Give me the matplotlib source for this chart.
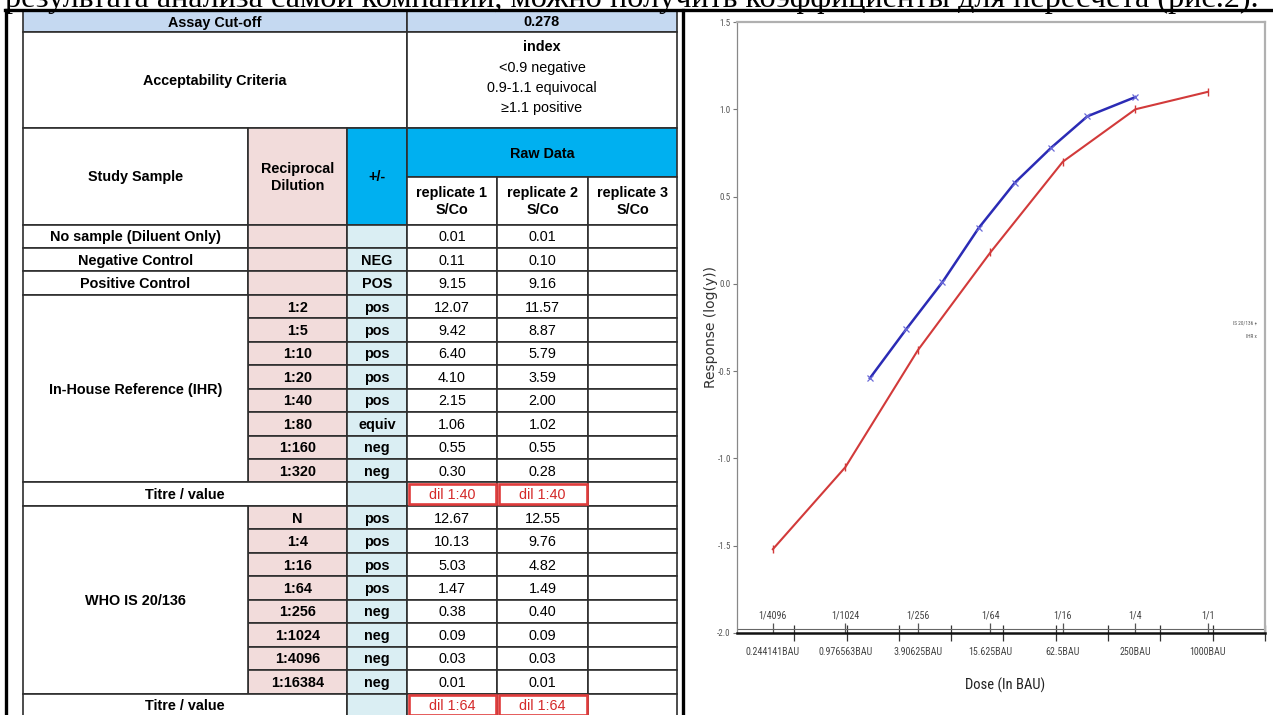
import numpy as np
import matplotlib
matplotlib.use("Agg")  # headless
import matplotlib.pyplot as plt
import matplotlib.ticker as mticker
from matplotlib import font_manager
from matplotlib.patches import Rectangle
from matplotlib.transforms import blended_transform_factory

W, H = 1273, 715

# ---- data ----
caption = ("результата анализа самой компании, можно получить "
           "коэффициенты для пересчета (рис.2).")

cutoff = "0.278"
criteria_head = "index"
criteria = ["<0.9 negative", "0.9-1.1 equivocal", "≥1.1 positive"]

control_names = ["No sample (Diluent Only)", "Negative Control", "Positive Control"]
control_call = ["", "NEG", "POS"]
control_rep1 = ["0.01", "0.11", "9.15"]
control_rep2 = ["0.01", "0.10", "9.16"]

ihr_dil = ["1:2", "1:5", "1:10", "1:20", "1:40", "1:80", "1:160", "1:320"]
ihr_call = ["pos", "pos", "pos", "pos", "pos", "equiv", "neg", "neg"]
ihr_rep1 = ["12.07", "9.42", "6.40", "4.10", "2.15", "1.06", "0.55", "0.30"]
ihr_rep2 = ["11.57", "8.87", "5.79", "3.59", "2.00", "1.02", "0.55", "0.28"]
ihr_titre = ["dil 1:40", "dil 1:40"]

who_dil = ["N", "1:4", "1:16", "1:64", "1:256", "1:1024", "1:4096", "1:16384"]
who_call = ["pos", "pos", "pos", "pos", "neg", "neg", "neg", "neg"]
who_rep1 = ["12.67", "10.13", "5.03", "1.47", "0.38", "0.09", "0.03", "0.01"]
who_rep2 = ["12.55", "9.76", "4.82", "1.49", "0.40", "0.09", "0.03", "0.01"]
who_titre = ["dil 1:64", "dil 1:64"]

# dose-response plot
is_dose = [0.244141, 0.976563, 3.90625, 15.625, 62.5, 250, 1000]
is_resp = [-1.52, -1.05, -0.38, 0.18, 0.70, 1.00, 1.10]
ihr_dose = [1.5625, 3.125, 6.25, 12.5, 25, 50, 100, 250]
ihr_resp = [-0.54, -0.26, 0.01, 0.32, 0.58, 0.78, 0.96, 1.07]
dose_labels = ["0.244141BAU", "0.976563BAU", "3.90625BAU", "15.625BAU",
               "62.5BAU", "250BAU", "1000BAU"]
dil_labels = ["1/4096", "1/1024", "1/256", "1/64", "1/16", "1/4", "1/1"]
y_ticks = [-2.0, -1.5, -1.0, -0.5, 0.0, 0.5, 1.0, 1.5]


def pick(*names):
    have = {f.name for f in font_manager.fontManager.ttflist}
    for n in names:
        if n in have:
            return n
    return None


def narrow_font():
    """A condensed sans for the chart labels, whatever is installed."""
    name = pick("Liberation Sans Narrow", "Arial Narrow", "Roboto Condensed",
                "Open Sans Condensed", "Noto Sans Condensed", "DejaVu Sans Condensed")
    if name:
        return dict(family=name)
    for fam in ("Noto Sans", "Open Sans", "Roboto", "DejaVu Sans"):
        for f in font_manager.fontManager.ttflist:
            if f.name == fam and f.stretch != "normal" and "expand" not in str(f.stretch):
                return dict(family=fam, stretch="condensed")
    return dict(family="DejaVu Sans")


SANS = pick("Liberation Sans", "Arial") or "DejaVu Sans"
SERIF = pick("Liberation Serif", "DejaVu Serif") or "DejaVu Serif"
NARROW = narrow_font()

PINK = "#f2dcdb"
LBLUE = "#daeef3"
HEAD = "#c5d9f1"
CYAN = "#00b0f0"
GRID = "#2e2e2e"
RED = "#e03c3c"

fig = plt.figure(figsize=(W / 100, H / 100), dpi=100)
ax_t = fig.add_axes([0, 0, 1, 1])
ax_t.set_xlim(0, W)
ax_t.set_ylim(H, 0)
ax_t.axis("off")

FS = 10.4


def cell(x0, x1, y0, y1, text="", bg="white", bold=True, color="black"):
    ax_t.add_patch(Rectangle((x0, y0), x1 - x0, y1 - y0, facecolor=bg,
                             edgecolor=GRID, lw=1.2, zorder=1))
    if text:
        ax_t.text((x0 + x1) / 2, (y0 + y1) / 2 + 1, text, ha="center", va="center",
                  family=SANS, fontsize=FS, color=color,
                  fontweight="bold" if bold else "normal", linespacing=1.3, zorder=3)


def titre(x0, x1, y0, y1, text):
    cell(x0, x1, y0, y1)
    ax_t.add_patch(Rectangle((x0 + 1.5, y0 + 1.5), x1 - x0 - 3, y1 - y0 - 3,
                             facecolor="none", edgecolor=RED, lw=1.9, zorder=2))
    ax_t.text((x0 + x1) / 2, (y0 + y1) / 2 + 1, text, ha="center", va="center",
              family=SANS, fontsize=FS, color="#d42a2a", zorder=3)


# column edges and row edges (pixels)
C = [23, 248, 347, 407, 497, 588, 677]
R0, RH = 224.5, 23.45

# header block
cell(C[0], C[3], 11, 32, "Assay Cut-off", HEAD)
cell(C[3], C[6], 11, 32, cutoff, HEAD)
cell(C[0], C[3], 32, 128, "Acceptability Criteria")
cell(C[3], C[6], 32, 128)
ax_t.text((C[3] + C[6]) / 2, 47, criteria_head, ha="center", va="center",
          family=SANS, fontsize=FS, fontweight="bold")
for i, s in enumerate(criteria):
    ax_t.text((C[3] + C[6]) / 2, 68 + 20 * i, s, ha="center", va="center",
              family=SANS, fontsize=FS)
cell(C[0], C[1], 128, R0, "Study Sample")
cell(C[1], C[2], 128, R0, "Reciprocal\nDilution", PINK)
cell(C[2], C[3], 128, R0, "+/-", CYAN)
cell(C[3], C[6], 128, 177, "Raw Data", CYAN)
for j in range(3):
    cell(C[3 + j], C[4 + j], 177, R0, f"replicate {j + 1}\nS/Co")


def y_of(r):
    return R0 + r * RH


row = 0
for name, call, a, b in zip(control_names, control_call, control_rep1, control_rep2):
    y0, y1 = y_of(row), y_of(row + 1)
    cell(C[0], C[1], y0, y1, name)
    cell(C[1], C[2], y0, y1, "", PINK)
    cell(C[2], C[3], y0, y1, call, LBLUE)
    cell(C[3], C[4], y0, y1, a, bold=False)
    cell(C[4], C[5], y0, y1, b, bold=False)
    cell(C[5], C[6], y0, y1)
    row += 1


def block(label, dils, calls, rep1, rep2, titres):
    global row
    top = row
    for d, c, a, b in zip(dils, calls, rep1, rep2):
        y0, y1 = y_of(row), y_of(row + 1)
        cell(C[1], C[2], y0, y1, d, PINK)
        cell(C[2], C[3], y0, y1, c, LBLUE)
        cell(C[3], C[4], y0, y1, a, bold=False)
        cell(C[4], C[5], y0, y1, b, bold=False)
        cell(C[5], C[6], y0, y1)
        row += 1
    cell(C[0], C[1], y_of(top), y_of(row), label)
    y0, y1 = y_of(row), y_of(row + 1)
    cell(C[0], C[2], y0, y1, "Titre / value")
    cell(C[2], C[3], y0, y1, "", LBLUE)
    titre(C[3], C[4], y0, y1, titres[0])
    titre(C[4], C[5], y0, y1, titres[1])
    cell(C[5], C[6], y0, y1)
    row += 1


block("In-House Reference (IHR)", ihr_dil, ihr_call, ihr_rep1, ihr_rep2, ihr_titre)
block("WHO IS 20/136", who_dil, who_call, who_rep1, who_rep2, who_titre)

# outer frame of the document table
ax_t.plot([5, W], [10, 10], color="black", lw=2.4, zorder=5)
ax_t.plot([6, 6], [10, H], color="black", lw=2.4, zorder=5)
ax_t.plot([683, 683], [10, H], color="black", lw=2.4, zorder=5)

# caption line cut off by the top edge: size it to span the page width
cap = ax_t.text(5, 6.5, caption, family=SERIF, fontsize=20, va="baseline", ha="left",
                zorder=4)
rend = fig.canvas.get_renderer()
cap.set_fontsize(20 * (1264 - 5) / cap.get_window_extent(rend).width)

# ---- dose-response chart ----
ax = fig.add_axes([737 / W, 1 - 633 / H, (1265 - 737) / W, (633 - 22) / H])
ax.set_xscale("log")
ax.set_xlim(0.123, 2800)
ax.set_ylim(-2.0, 1.5)

ax.plot(is_dose, is_resp, color="#d23a3a", lw=1.5, marker="|", ms=6, mew=1.0,
        label="IS 20/136")
ax.plot(ihr_dose, ihr_resp, color="#2b2bb5", lw=1.8, marker="x", ms=5, mew=0.9,
        mec="#6a6ad8", label="IHR")

ax.set_xticks(is_dose)
ax.set_xticklabels(dose_labels, color="#444444", fontsize=7.2, **NARROW)
ax.set_xticks(np.exp(np.arange(-1, 9)), minor=True)
ax.xaxis.set_minor_formatter(mticker.NullFormatter())
ax.tick_params(axis="x", which="major", direction="in", length=7, width=0.9,
               color="#555555", pad=10)
ax.tick_params(axis="x", which="minor", direction="inout", length=11, width=0.9,
               color="#333333")
trans = blended_transform_factory(ax.transData, ax.transAxes)
for d, lab in zip(is_dose, dil_labels):
    ax.text(d, 0.028, lab, transform=trans, ha="center", va="center",
            color="#444444", fontsize=7.2, **NARROW)

ax.set_yticks(y_ticks)
ax.set_yticklabels([f"{v:.1f}" for v in y_ticks], color="#555555", fontsize=6.5,
                   **NARROW)
ax.tick_params(axis="y", direction="out", length=3, width=0.8, color="#777777", pad=1.5)
ax.yaxis.set_minor_locator(mticker.NullLocator())

ax.set_xlabel("Dose (In BAU)", fontsize=10.5, color="#222222", **NARROW)
ax.xaxis.set_label_coords((1005 - 737) / (1265 - 737), -(678 - 633) / (633 - 22))
ax.set_ylabel("Response (log(y))", fontsize=10, color="#333333", family="DejaVu Sans")
ax.yaxis.set_label_coords(-(737 - 718) / (1265 - 737), 0.5)

for s in ("top", "right"):
    ax.spines[s].set_color("#b0b0b0")
    ax.spines[s].set_linewidth(1.6)
ax.spines["left"].set_color("#888888")
ax.spines["left"].set_linewidth(0.9)
ax.spines["bottom"].set_color("#111111")
ax.spines["bottom"].set_linewidth(1.8)
ax.axhline(-1.977, color="#666666", lw=0.8)

ax.text(0.985, 0.508, "IS 20/136 +", transform=ax.transAxes, ha="right", va="center",
        fontsize=3.8, color="#555555", **NARROW)
ax.text(0.985, 0.485, "IHR x", transform=ax.transAxes, ha="right", va="center",
        fontsize=3.8, color="#555555", **NARROW)

fig.savefig("out.png", dpi=100)
